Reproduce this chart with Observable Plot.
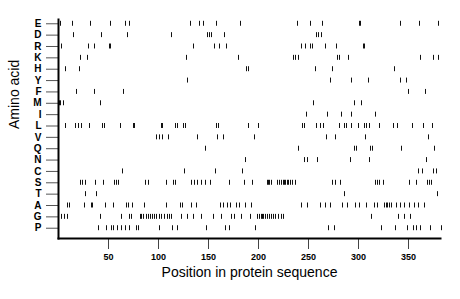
<!DOCTYPE html>
<html>
<head>
<meta charset="utf-8">
<script src="https://cdn.jsdelivr.net/npm/d3@7"></script>
<script src="https://cdn.jsdelivr.net/npm/@observablehq/plot@0.6"></script>
<style>
  html, body { margin: 0; padding: 0; background: #fff; }
</style>
</head>
<body>
<div id="chart"></div>
<script>
const aminoAcids = ["E","D","R","K","H","Y","F","M","I","L","V","Q","N","C","S","T","A","G","P"];
const xTicks = [50, 100, 150, 200, 250, 300, 350];

const posE = [2, 14, 32, 52, 67, 71, 132, 141, 145, 158, 182, 239, 252, 264, 301, 302, 342, 361, 380];
const posD = [15, 43, 69, 113, 149, 151, 153, 166, 258, 260, 263];
const posR = [3, 30, 36, 51, 52, 135, 156, 161, 168, 243, 247, 252, 254, 267, 278, 305, 306];
const posK = [22, 29, 128, 180, 235, 237, 240, 279, 281, 290, 362, 375, 380];
const posH = [7, 21, 188, 190, 257, 274, 336];
const posY = [129, 272, 293, 310, 342, 348];
const posF = [18, 36, 65, 350, 367];
const posM = [1, 2, 5, 42, 255, 296, 303];
const posI = [248, 269, 283, 293, 317];
const posL = [7, 17, 20, 23, 31, 44, 46, 62, 75, 76, 103, 104, 117, 119, 125, 127, 158, 160, 190, 200, 244, 246, 258, 262, 265, 281, 286, 288, 293, 300, 306, 308, 311, 321, 335, 339, 354, 365, 374];
const posV = [98, 101, 104, 110, 139, 159, 165, 196, 268, 277, 307, 370];
const posQ = [147, 240, 296, 298, 312, 314, 343, 376];
const posN = [187, 246, 249, 259, 292, 311, 368];
const posC = [64, 126, 157, 184, 360, 364, 375, 378];
const posS = [22, 24, 27, 37, 45, 56, 58, 60, 87, 90, 108, 115, 117, 133, 136, 139, 143, 147, 152, 171, 186, 194, 209, 210, 211, 213, 219, 221, 223, 225, 226, 227, 229, 230, 232, 234, 237, 274, 277, 282, 317, 319, 321, 325, 351, 358, 369, 371, 373];
const posT = [27, 38, 286, 379];
const posA = [9, 11, 26, 33, 34, 47, 55, 68, 70, 74, 86, 108, 122, 124, 133, 138, 162, 165, 169, 172, 178, 181, 187, 193, 243, 249, 262, 267, 272, 284, 289, 297, 301, 308, 316, 319, 326, 328, 329, 331, 333, 338, 342, 346, 351, 356, 360, 366];
const posG = [3, 6, 9, 42, 63, 71, 73, 82, 83, 85, 88, 90, 92, 94, 96, 98, 101, 103, 106, 109, 111, 113, 123, 129, 135, 143, 155, 163, 173, 176, 183, 192, 199, 201, 203, 204, 205, 207, 209, 211, 213, 215, 217, 220, 223, 225, 313, 340, 346, 352];
const posP = [40, 48, 53, 55, 59, 63, 67, 71, 78, 80, 101, 114, 119, 148, 167, 171, 197, 270, 276, 323, 337, 349, 355, 358, 362, 372, 383];

const positions = {E: posE, D: posD, R: posR, K: posK, H: posH, Y: posY, F: posF, M: posM, I: posI,
  L: posL, V: posV, Q: posQ, N: posN, C: posC, S: posS, T: posT, A: posA, G: posG, P: posP};

const data = aminoAcids.flatMap(a => positions[a].map(p => ({aa: a, pos: p})));

const chart = Plot.plot({
  width: 460,
  height: 299,
  marginLeft: 58,
  marginRight: 20,
  marginTop: 19,
  marginBottom: 61,
  style: {fontFamily: "'Liberation Sans', Arial, Helvetica, sans-serif", background: "#fff", color: "#000"},
  x: {domain: [0, 382]},
  y: {type: "band", domain: aminoAcids, range: [17.6, 233.4], padding: 0, round: false},
  marks: [
    Plot.tickX(data, {x: "pos", y: "aa", stroke: "#111", strokeWidth: 1, insetTop: 3.2, insetBottom: 3.2}),
    Plot.axisX({ticks: xTicks, tickSize: 11, tickPadding: 4, fontSize: 9, fontWeight: "bold", stroke: "#444", label: null}),
    Plot.axisY({tickSize: 12, tickPadding: 5, fontSize: 10, fontWeight: "bold", stroke: "#555", label: null}),
    Plot.frame({anchor: "left", stroke: "#000", strokeWidth: 2}),
    Plot.frame({anchor: "bottom", stroke: "#000", strokeWidth: 2}),
    Plot.text(["Position in protein sequence"], {frameAnchor: "bottom", dy: 38, fontSize: 14, fill: "#000"}),
    Plot.text(["Amino acid"], {frameAnchor: "left", dx: -44, rotate: -90, fontSize: 14, fill: "#000"})
  ]
});
document.getElementById("chart").appendChild(chart);
</script>
</body>
</html>
